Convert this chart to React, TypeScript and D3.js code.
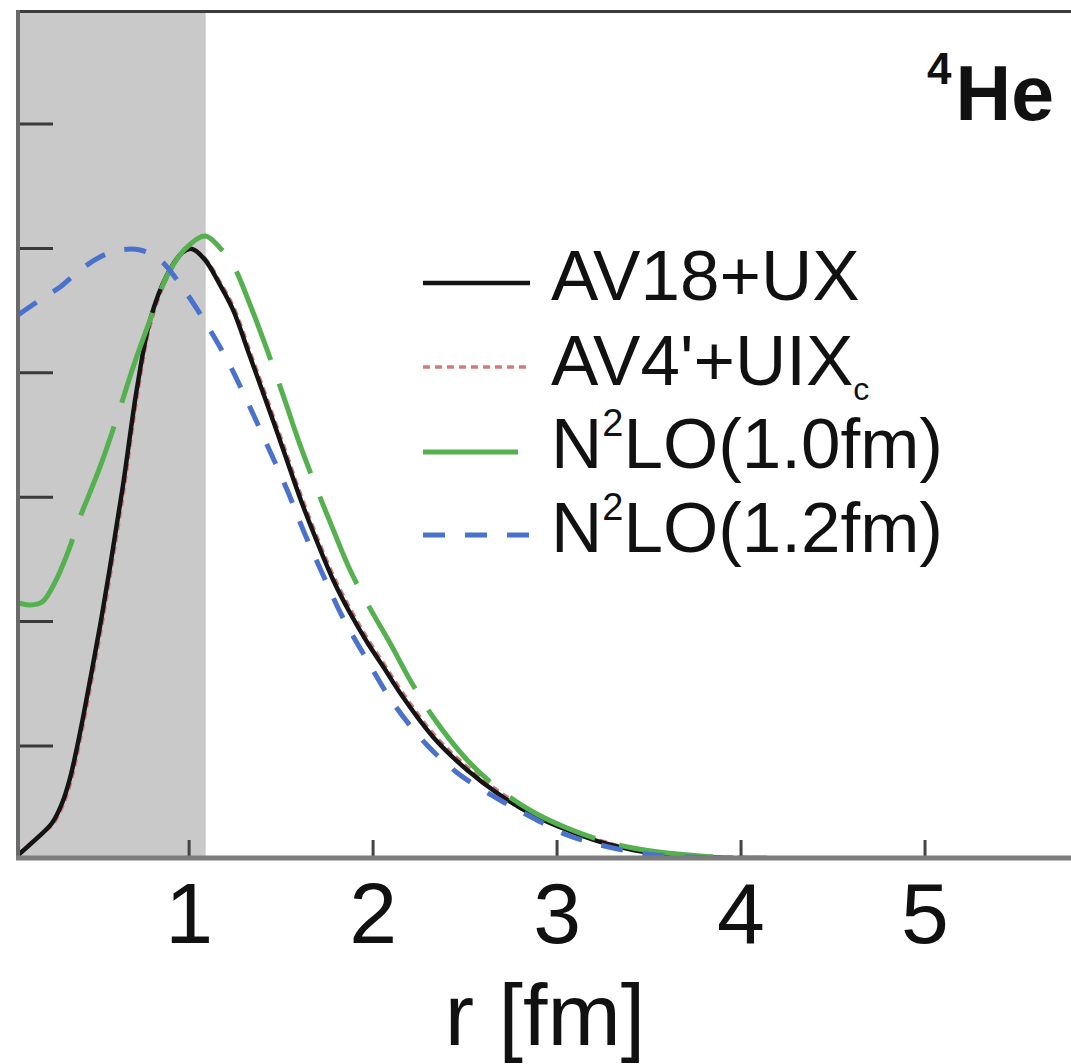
import React from "react";
import * as d3 from "d3";

// ---- data (r in fm, density in arbitrary units) ----
const xTicks = [1, 2, 3, 4, 5];
const yTicks = [0.9, 1.9, 2.9, 3.9, 4.9, 5.9];

const av18R = [0.071,0.163,0.255,0.310,0.353,0.408,0.462,0.516,0.571,0.641,0.717,0.788,0.880,0.967,1.016,1.087,1.168,1.239,1.332,1.424,1.516,1.603,1.696,1.783,1.875,1.967,2.060,2.147,2.326,2.511,2.690,2.870,3.054,3.234,3.413,3.598,3.777,3.957];
const av18V = [0.024,0.145,0.281,0.442,0.643,1.013,1.431,1.865,2.347,2.998,3.778,4.325,4.686,4.871,4.895,4.807,4.606,4.405,4.027,3.650,3.264,2.894,2.540,2.235,1.969,1.736,1.527,1.326,0.973,0.707,0.506,0.346,0.225,0.129,0.064,0.024,0.008,0];

const av4R = [0.075,0.167,0.259,0.314,0.357,0.412,0.466,0.520,0.575,0.645,0.721,0.792,0.884,0.971,1.020,1.091,1.172,1.243,1.336,1.428,1.520,1.607,1.700,1.787,1.879,1.971,2.064,2.151,2.330,2.515,2.694,2.874,3.058,3.238,3.417,3.602,3.781,3.961];
const av4V = [0.030,0.160,0.270,0.420,0.610,0.975,1.390,1.820,2.300,2.950,3.740,4.300,4.675,4.868,4.893,4.812,4.620,4.425,4.050,3.675,3.290,2.920,2.565,2.262,1.995,1.760,1.550,1.350,0.995,0.728,0.525,0.362,0.240,0.140,0.072,0.028,0.010,0];

const n2lo10R = [0.071,0.136,0.201,0.272,0.342,0.408,0.516,0.609,0.696,0.788,0.880,0.978,1.087,1.168,1.239,1.332,1.424,1.516,1.603,1.696,1.788,1.875,1.967,2.092,2.201,2.326,2.511,2.690,2.870,3.054,3.234,3.413,3.598,3.777,3.957,4.141];
const n2lo10V = [2.050,2.034,2.058,2.219,2.460,2.741,3.143,3.545,3.947,4.325,4.678,4.895,5.000,4.904,4.767,4.445,4.084,3.698,3.320,2.958,2.621,2.315,2.050,1.728,1.431,1.133,0.788,0.547,0.370,0.241,0.145,0.080,0.040,0.016,0.004,0];

const n2lo12R = [0.071,0.190,0.299,0.408,0.516,0.625,0.734,0.842,0.935,1.060,1.207,1.315,1.424,1.533,1.620,1.728,1.837,1.967,2.109,2.293,2.473,2.690,2.870,3.054,3.234,3.413,3.598,3.777,3.957];
const n2lo12V = [4.365,4.486,4.590,4.727,4.831,4.887,4.887,4.807,4.646,4.373,4.003,3.674,3.320,2.958,2.637,2.275,1.929,1.592,1.246,0.908,0.667,0.466,0.322,0.185,0.105,0.048,0.016,0.004,0];

const shadedMaxR = 1.09;
const X_MIN = 0.07;
const X_MAX = 5.9;
const Y_MAX = 6.8;

type Series = { name: string; r: number[]; v: number[]; color: string; width: number; dash: string | null };

const series: Series[] = [
  { name: "AV4'+UIXc", r: av4R, v: av4V, color: "#d47a7a", width: 3.5, dash: "7 5" },
  { name: "AV18+UX", r: av18R, v: av18V, color: "#141414", width: 4.5, dash: null },
  { name: "N2LO(1.0fm)", r: n2lo10R, v: n2lo10V, color: "#55b04f", width: 5, dash: "95 25" },
  { name: "N2LO(1.2fm)", r: n2lo12R, v: n2lo12V, color: "#4a72cc", width: 5, dash: "22 20" },
];

const W = 1071;
const H = 1064;
const LEFT = 18;
const TOP = 12;
const BOTTOM = 858;

const FONT = "'Liberation Sans', Arial, Helvetica, sans-serif";

export default function App() {
  const x = d3.scaleLinear().domain([X_MIN, X_MAX]).range([LEFT, 5 + 184 * X_MAX]);
  const y = d3.scaleLinear().domain([0, Y_MAX]).range([BOTTOM, TOP]);
  const line = d3
    .line<[number, number]>()
    .x((d) => x(d[0]))
    .y((d) => y(d[1]))
    .curve(d3.curveCatmullRom.alpha(0.5));

  const legendRows = [
    { s: series[1], ly: 283 },
    { s: series[0], ly: 367 },
    { s: series[2], ly: 452 },
    { s: series[3], ly: 535 },
  ];

  return (
    <svg
      width={W}
      height={H}
      style={{ position: "absolute", left: 0, top: 0, background: "#fff" }}
      fontFamily={FONT}
    >
      <defs>
        <clipPath id="plot">
          <rect x={LEFT} y={TOP} width={W - LEFT} height={BOTTOM - TOP} />
        </clipPath>
      </defs>
      <rect x={0} y={0} width={W} height={H} fill="#fff" />
      {/* shaded region */}
      <rect
        x={x(X_MIN)}
        y={TOP}
        width={x(shadedMaxR) - x(X_MIN)}
        height={BOTTOM - TOP}
        fill="#c9c9c9"
      />
      {/* curves */}
      <g clipPath="url(#plot)">
        {series.map((s) => (
          <path
            key={s.name}
            d={line(s.r.map((r, i) => [r, s.v[i]] as [number, number])) || ""}
            fill="none"
            stroke={s.color}
            strokeWidth={s.width}
            strokeDasharray={s.dash || undefined}
            strokeLinecap="butt"
          />
        ))}
      </g>
      {/* ticks */}
      {yTicks.map((t) => (
        <line key={"yt" + t} x1={LEFT} x2={LEFT + 35} y1={y(t)} y2={y(t)} stroke="#3a3a3a" strokeWidth={3} />
      ))}
      {xTicks.map((t) => (
        <line key={"xt" + t} x1={x(t)} x2={x(t)} y1={BOTTOM - 18} y2={BOTTOM} stroke="#444" strokeWidth={3} />
      ))}
      {/* frame */}
      <line x1={LEFT - 2} x2={W} y1={TOP - 0.5} y2={TOP - 0.5} stroke="#3c3c3c" strokeWidth={3} />
      <line x1={LEFT} x2={LEFT} y1={TOP - 2} y2={BOTTOM + 2} stroke="#6a6a6a" strokeWidth={4} />
      <line x1={LEFT - 2} x2={W} y1={BOTTOM} y2={BOTTOM} stroke="#7c7c7c" strokeWidth={5} />
      {/* tick labels */}
      {xTicks.map((t) => (
        <text key={"xl" + t} x={x(t)} y={943} fontSize={86} textAnchor="middle" fill="#111">
          {t}
        </text>
      ))}
      <text x={545} y={1045} fontSize={88} textAnchor="middle" fill="#111">
        r [fm]
      </text>
      {/* nucleus label */}
      <text x={927} y={84} fontSize={44} fontWeight="bold" fill="#111">4</text>
      <text x={1054} y={120} fontSize={77} fontWeight="bold" textAnchor="end" fill="#111">He</text>
      {/* legend */}
      {legendRows.map(({ s, ly }) => (
        <line
          key={"lg" + s.name}
          x1={423}
          x2={530}
          y1={ly}
          y2={ly}
          stroke={s.color}
          strokeWidth={s.width}
          strokeDasharray={s.dash || undefined}
        />
      ))}
      <text x={551} y={300} fontSize={71} fill="#111">AV18+UX</text>
      <text x={551} y={385} fontSize={71} fill="#111">
        AV4'+UIX
        <tspan fontSize={32} dy={15}>c</tspan>
      </text>
      <text x={551} y={468} fontSize={71} fill="#111">
        N
        <tspan fontSize={38} dy={-32}>2</tspan>
        <tspan dy={32}>LO(1.0fm)</tspan>
      </text>
      <text x={551} y={552} fontSize={71} fill="#111">
        N
        <tspan fontSize={38} dy={-32}>2</tspan>
        <tspan dy={32}>LO(1.2fm)</tspan>
      </text>
    </svg>
  );
}
